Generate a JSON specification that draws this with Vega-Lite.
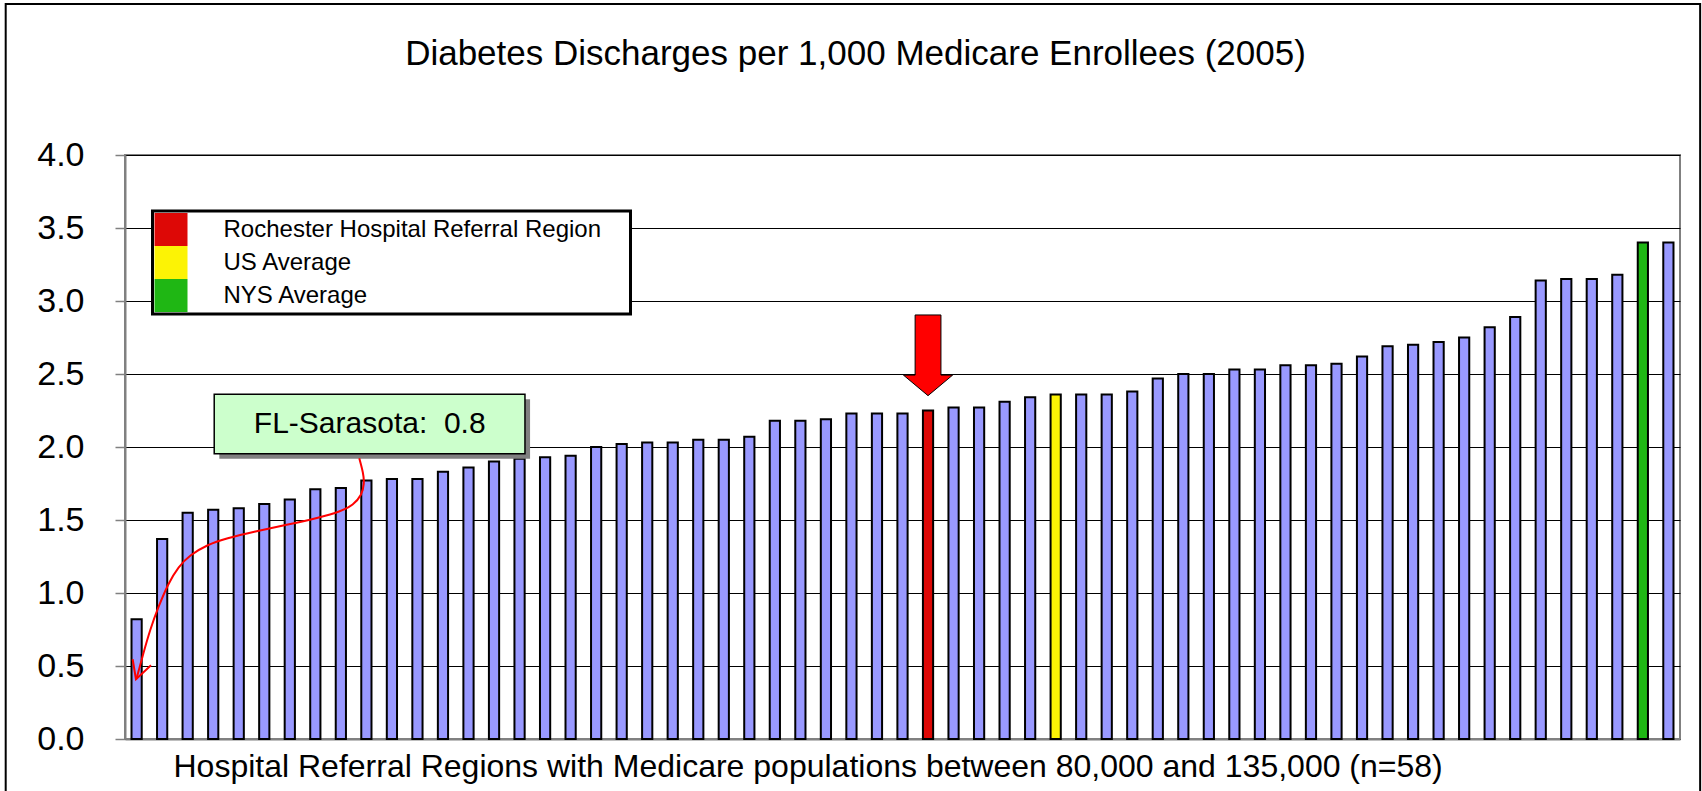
{
  "$schema": "https://vega.github.io/schema/vega-lite/v6.json",
  "width": 1555,
  "height": 584,
  "autosize": {"type": "none"},
  "padding": {"left": 125, "top": 155, "right": 22, "bottom": 52},
  "background": "white",
  "config": {
    "font": "Liberation Sans",
    "view": {"stroke": "#808080", "strokeWidth": 2},
    "legend": {"strokeWidth": 3}
  },
  "title": {
    "text": "Diabetes Discharges per 1,000 Medicare Enrollees (2005)",
    "fontSize": 35,
    "fontWeight": "normal",
    "color": "black",
    "anchor": "middle",
    "frame": "group",
    "dx": -47,
    "dy": 69,
    "offset": 0
  },
  "datasets": {
    "bars": [
      {"idx": 1, "v": 0.82, "cat": "Other"},
      {"idx": 2, "v": 1.37, "cat": "Other"},
      {"idx": 3, "v": 1.55, "cat": "Other"},
      {"idx": 4, "v": 1.57, "cat": "Other"},
      {"idx": 5, "v": 1.58, "cat": "Other"},
      {"idx": 6, "v": 1.61, "cat": "Other"},
      {"idx": 7, "v": 1.64, "cat": "Other"},
      {"idx": 8, "v": 1.71, "cat": "Other"},
      {"idx": 9, "v": 1.72, "cat": "Other"},
      {"idx": 10, "v": 1.77, "cat": "Other"},
      {"idx": 11, "v": 1.78, "cat": "Other"},
      {"idx": 12, "v": 1.78, "cat": "Other"},
      {"idx": 13, "v": 1.83, "cat": "Other"},
      {"idx": 14, "v": 1.86, "cat": "Other"},
      {"idx": 15, "v": 1.90, "cat": "Other"},
      {"idx": 16, "v": 1.92, "cat": "Other"},
      {"idx": 17, "v": 1.93, "cat": "Other"},
      {"idx": 18, "v": 1.94, "cat": "Other"},
      {"idx": 19, "v": 2.00, "cat": "Other"},
      {"idx": 20, "v": 2.02, "cat": "Other"},
      {"idx": 21, "v": 2.03, "cat": "Other"},
      {"idx": 22, "v": 2.03, "cat": "Other"},
      {"idx": 23, "v": 2.05, "cat": "Other"},
      {"idx": 24, "v": 2.05, "cat": "Other"},
      {"idx": 25, "v": 2.07, "cat": "Other"},
      {"idx": 26, "v": 2.18, "cat": "Other"},
      {"idx": 27, "v": 2.18, "cat": "Other"},
      {"idx": 28, "v": 2.19, "cat": "Other"},
      {"idx": 29, "v": 2.23, "cat": "Other"},
      {"idx": 30, "v": 2.23, "cat": "Other"},
      {"idx": 31, "v": 2.23, "cat": "Other"},
      {"idx": 32, "v": 2.25, "cat": "Rochester Hospital Referral Region"},
      {"idx": 33, "v": 2.27, "cat": "Other"},
      {"idx": 34, "v": 2.27, "cat": "Other"},
      {"idx": 35, "v": 2.31, "cat": "Other"},
      {"idx": 36, "v": 2.34, "cat": "Other"},
      {"idx": 37, "v": 2.36, "cat": "US Average"},
      {"idx": 38, "v": 2.36, "cat": "Other"},
      {"idx": 39, "v": 2.36, "cat": "Other"},
      {"idx": 40, "v": 2.38, "cat": "Other"},
      {"idx": 41, "v": 2.47, "cat": "Other"},
      {"idx": 42, "v": 2.50, "cat": "Other"},
      {"idx": 43, "v": 2.50, "cat": "Other"},
      {"idx": 44, "v": 2.53, "cat": "Other"},
      {"idx": 45, "v": 2.53, "cat": "Other"},
      {"idx": 46, "v": 2.56, "cat": "Other"},
      {"idx": 47, "v": 2.56, "cat": "Other"},
      {"idx": 48, "v": 2.57, "cat": "Other"},
      {"idx": 49, "v": 2.62, "cat": "Other"},
      {"idx": 50, "v": 2.69, "cat": "Other"},
      {"idx": 51, "v": 2.70, "cat": "Other"},
      {"idx": 52, "v": 2.72, "cat": "Other"},
      {"idx": 53, "v": 2.75, "cat": "Other"},
      {"idx": 54, "v": 2.82, "cat": "Other"},
      {"idx": 55, "v": 2.89, "cat": "Other"},
      {"idx": 56, "v": 3.14, "cat": "Other"},
      {"idx": 57, "v": 3.15, "cat": "Other"},
      {"idx": 58, "v": 3.15, "cat": "Other"},
      {"idx": 59, "v": 3.18, "cat": "Other"},
      {"idx": 60, "v": 3.40, "cat": "NYS Average"},
      {"idx": 61, "v": 3.40, "cat": "Other"}
    ],
    "curve": [
      {"k": 1, "u": 9.19, "v": 1.923},
      {"k": 2, "u": 9.35, "v": 1.820},
      {"k": 3, "u": 9.39, "v": 1.751},
      {"k": 4, "u": 9.29, "v": 1.671},
      {"k": 5, "u": 8.96, "v": 1.603},
      {"k": 6, "u": 8.44, "v": 1.557},
      {"k": 7, "u": 7.65, "v": 1.518},
      {"k": 8, "u": 6.34, "v": 1.466},
      {"k": 9, "u": 5.03, "v": 1.420},
      {"k": 10, "u": 3.99, "v": 1.375},
      {"k": 11, "u": 3.21, "v": 1.329},
      {"k": 12, "u": 2.55, "v": 1.260},
      {"k": 13, "u": 2.09, "v": 1.180},
      {"k": 14, "u": 1.70, "v": 1.066},
      {"k": 15, "u": 1.31, "v": 0.906},
      {"k": 16, "u": 0.98, "v": 0.747},
      {"k": 17, "u": 0.72, "v": 0.587},
      {"k": 18, "u": 0.46, "v": 0.416},
      {"k": 19, "u": 0.43, "v": 0.409}
    ],
    "head": [
      {"k": 1, "u": 0.30, "v": 0.546},
      {"k": 2, "u": 0.43, "v": 0.409},
      {"k": 3, "u": 1.02, "v": 0.505}
    ]
  },
  "encoding": {
    "y": {
      "field": "v",
      "type": "quantitative",
      "scale": {"domain": [0, 4], "nice": false},
      "axis": {
        "title": null,
        "values": [0, 0.5, 1, 1.5, 2, 2.5, 3, 3.5, 4],
        "format": ".1f",
        "labelFontSize": 34,
        "labelColor": "black",
        "labelPadding": 31,
        "tickSize": 10,
        "tickColor": "#808080",
        "tickWidth": 1.5,
        "domainColor": "#808080",
        "domainWidth": 2,
        "grid": true,
        "gridColor": "black",
        "gridWidth": 1,
        "gridOpacity": 1
      }
    }
  },
  "layer": [
    {
      "layer": [
        {
          "data": {"name": "bars"},
          "mark": {"type": "bar", "stroke": "black", "strokeWidth": 2},
          "encoding": {
            "x": {
              "field": "idx",
              "type": "ordinal",
              "scale": {"paddingInner": 0.6, "paddingOuter": 0.255},
              "axis": {
                "title": "Hospital Referral Regions with Medicare populations between 80,000 and 135,000 (n=58)",
                "labels": false,
                "ticks": false,
                "grid": false,
                "domainColor": "#808080",
                "domainWidth": 2,
                "titleFontSize": 32,
                "titleFontWeight": "normal",
                "titleColor": "black",
                "titleX": 48,
                "titleY": 37,
                "titleAlign": "left",
                "titleBaseline": "alphabetic"
              }
            },
            "color": {
              "field": "cat",
              "type": "nominal",
              "scale": {
                "domain": ["Other", "Rochester Hospital Referral Region", "US Average", "NYS Average"],
                "range": ["#9999FF", "#DD0806", "#FCF305", "#1FB714"]
              },
              "legend": {
                "title": null,
                "orient": "none",
                "legendX": 27.5,
                "legendY": 56,
                "values": ["Rochester Hospital Referral Region", "US Average", "NYS Average"],
                "symbolType": "square",
                "symbolSize": 1089,
                "symbolStrokeWidth": 0,
                "symbolOpacity": 1,
                "labelFontSize": 24,
                "labelColor": "black",
                "labelOffset": 36,
                "labelLimit": 1000,
                "rowPadding": 0,
                "padding": 2,
                "strokeColor": "black",
                "fillColor": "white",
                "labelExpr": "datum.label + '\u00a0\u00a0\u00a0\u00a0\u200b'"
              }
            }
          }
        },
        {
          "data": {"values": [{"idx": 32, "v": 2.628}]},
          "mark": {
            "type": "point",
            "shape": "M-0.32,-1L0.32,-1L0.32,0.49L0.61,0.49L0,1L-0.61,0.49L-0.32,0.49Z",
            "size": 6512,
            "filled": true,
            "color": "#FF0000",
            "stroke": "#000000",
            "strokeWidth": 1,
            "opacity": 1
          },
          "encoding": {
            "x": {"field": "idx", "type": "ordinal"}
          }
        }
      ]
    },
    {
      "layer": [
        {
          "data": {"values": [{"x1": -4.68, "x2": 61.79, "v": 5.034, "v2": -0.42}]},
          "mark": {"type": "rect", "fillOpacity": 0, "stroke": "black", "strokeWidth": 2},
          "encoding": {
            "x": {"field": "x1", "type": "quantitative", "scale": {"domain": [0, 61], "nice": false, "zero": false}, "axis": null},
            "x2": {"field": "x2"},
            "y2": {"field": "v2"}
          }
        },
        {
          "data": {"values": [{"x1": 3.70, "x2": 15.89, "v": 2.327, "v2": 1.920}]},
          "mark": {"type": "rect", "fill": "#808080", "strokeWidth": 0},
          "encoding": {
            "x": {"field": "x1", "type": "quantitative", "scale": {"domain": [0, 61], "nice": false, "zero": false}, "axis": null},
            "x2": {"field": "x2"},
            "y2": {"field": "v2"}
          }
        },
        {
          "data": {"values": [{"x1": 3.50, "x2": 15.69, "v": 2.361, "v2": 1.954}]},
          "mark": {"type": "rect", "fill": "#CCFFCC", "stroke": "black", "strokeWidth": 1.5},
          "encoding": {
            "x": {"field": "x1", "type": "quantitative", "scale": {"domain": [0, 61], "nice": false, "zero": false}, "axis": null},
            "x2": {"field": "x2"},
            "y2": {"field": "v2"}
          }
        },
        {
          "data": {"values": [{"u": 9.6, "v": 2.157, "t": "FL-Sarasota: \u00a00.8"}]},
          "mark": {"type": "text", "fontSize": 30, "color": "black", "align": "center", "baseline": "middle"},
          "encoding": {
            "x": {"field": "u", "type": "quantitative", "scale": {"domain": [0, 61], "nice": false, "zero": false}, "axis": null},
            "text": {"field": "t"}
          }
        },
        {
          "data": {"name": "curve"},
          "mark": {"type": "line", "color": "#FF0000", "strokeWidth": 2, "interpolate": "basis"},
          "encoding": {
            "x": {"field": "u", "type": "quantitative", "scale": {"domain": [0, 61], "nice": false, "zero": false}, "axis": null},
            "order": {"field": "k", "type": "quantitative"}
          }
        },
        {
          "data": {"name": "head"},
          "mark": {"type": "line", "color": "#FF0000", "strokeWidth": 2},
          "encoding": {
            "x": {"field": "u", "type": "quantitative", "scale": {"domain": [0, 61], "nice": false, "zero": false}, "axis": null},
            "order": {"field": "k", "type": "quantitative"}
          }
        }
      ]
    }
  ],
  "resolve": {"scale": {"x": "independent"}}
}
